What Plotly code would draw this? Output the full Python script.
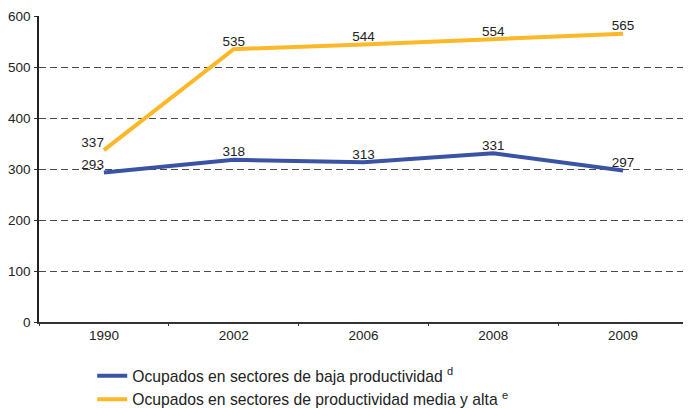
import plotly.graph_objects as go

# datos
years = ['1990', '2002', '2006', '2008', '2009']
baja = [293, 318, 313, 331, 297]
media_alta = [337, 535, 544, 554, 565]

AZUL = '#3a53a4'
NARANJA = '#fdb827'
FONT = 'Liberation Sans, Arial, sans-serif'

# la primera etiqueta de cada serie va corrida a la izquierda
pos_etiquetas = ['top left'] + ['top center'] * (len(years) - 1)

fig = go.Figure()

fig.add_trace(go.Scatter(
    x=years, y=baja, mode='lines+text',
    name='Ocupados en sectores de baja productividad <sup>d</sup>',
    line=dict(color=AZUL, width=4),
    text=[str(v) for v in baja], textposition=pos_etiquetas,
    textfont=dict(size=13.5, color='#222'),
))
fig.add_trace(go.Scatter(
    x=years, y=media_alta, mode='lines+text',
    name='Ocupados en sectores de productividad media y alta <sup>e</sup>',
    line=dict(color=NARANJA, width=4),
    text=[str(v) for v in media_alta], textposition=pos_etiquetas,
    textfont=dict(size=13.5, color='#222'),
    cliponaxis=False,
))

# la página tiene 8px de margen en el body
fig.update_layout(
    width=683, height=400,
    margin=dict(l=31, r=3, t=8, b=86, autoexpand=False),
    plot_bgcolor='white', paper_bgcolor='white',
    font=dict(family=FONT, size=13.5, color='#222'),
    showlegend=True,
    legend=dict(
        x=0.082, y=-0.121, xanchor='left', yanchor='top',
        font=dict(size=15.7, color='#222'),
        tracegroupgap=0,
    ),
)

fig.update_xaxes(
    type='category', range=[-0.5, 4.5],
    showline=True, linecolor='#333', linewidth=1.5,
    tickson='boundaries', ticks='outside', ticklen=2, tickcolor='#333',
    showgrid=False, tickfont=dict(size=13.5),
)
fig.update_yaxes(
    range=[0, 600], dtick=100,
    showline=True, linecolor='#222', linewidth=1.5,
    ticks='outside', ticklen=3, tickcolor='#333',
    showgrid=True, gridcolor='#4a4a4a', gridwidth=1, griddash='7px,4px',
    zeroline=False, tickfont=dict(size=13.5), ticklabelstandoff=1,
)

fig.write_html('out.html')
